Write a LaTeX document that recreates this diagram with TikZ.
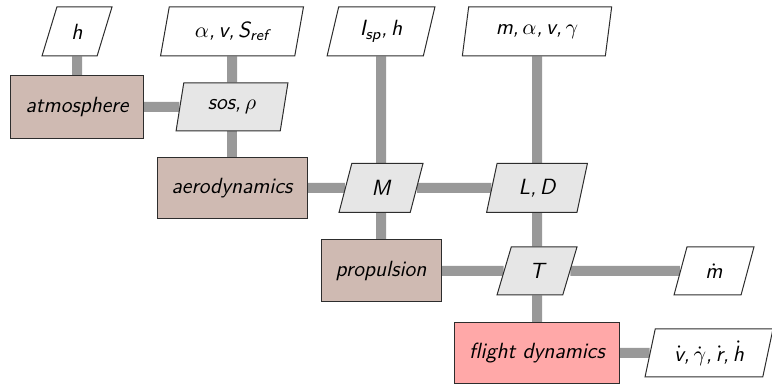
\documentclass[tikz,border=0pt]{standalone}
\usepackage{amsmath}
\usetikzlibrary{shapes.geometric,backgrounds}
\definecolor{funcfill}{RGB}{207,186,178}
\definecolor{solverfill}{RGB}{255,168,168}
\definecolor{datafill}{RGB}{230,230,230}
\definecolor{linkgray}{RGB}{153,153,153}
\definecolor{edge}{RGB}{45,45,45}
% time derivative of a sans italic variable
\newcommand\tdot[1]{$\dot{\text{#1}}$}
\tikzset{
  base/.style={draw=edge, line width=0.5pt, inner sep=0pt,
    font=\fontsize{11}{13}\selectfont\sffamily\itshape},
  func/.style={base, rectangle, fill=funcfill},
  solver/.style={base, rectangle, fill=solverfill},
  databox/.style={base, trapezium, trapezium left angle=75,
    trapezium right angle=105, trapezium stretches=true, fill=datafill},
  iobox/.style={databox, fill=white},
  link/.style={draw=linkgray, line width=5pt},
}
\begin{document}
\begin{tikzpicture}[x=0.5pt, y=-0.5pt]
\useasboundingbox (0,0) rectangle (772,384);
% inputs on the top row
\node[iobox, minimum width=35pt, minimum height=24.5pt] (h) at (77,31.5) {h};
\node[iobox, minimum width=71.5pt, minimum height=24.5pt] (aref) at (232,31.5) {$\alpha$,\,v,\,S\textsubscript{ref}};
\node[iobox, minimum width=54pt, minimum height=24.5pt] (isp) at (381,31.5) {I\textsubscript{sp},\,h};
\node[iobox, minimum width=75pt, minimum height=24.5pt] (mav) at (537,31.5) {m,\,$\alpha$,\,v,\,$\gamma$};
% disciplines and coupling data
\node[func, minimum width=66.5pt, minimum height=31.5pt] (atm) at (77,107) {atmosphere};
\node[databox, minimum width=56pt, minimum height=24pt] (sos) at (232,107) {sos,\,$\rho$};
\node[func, minimum width=75pt, minimum height=30.5pt] (aero) at (232,188) {aerodynamics};
\node[databox, minimum width=42pt, minimum height=24.5pt] (M) at (381,188) {M};
\node[databox, minimum width=50.5pt, minimum height=24.5pt] (LD) at (537,188) {L,\,D};
\node[func, minimum width=60pt, minimum height=31pt] (prop) at (381,271) {propulsion};
\node[databox, minimum width=40pt, minimum height=24pt] (T) at (537,271) {T};
\node[iobox, minimum width=40pt, minimum height=24pt] (mdot) at (714,271) {\tdot{m}};
\node[solver, minimum width=82.5pt, minimum height=30.5pt] (fd) at (537,353) {flight dynamics};
\node[iobox, minimum width=64pt, minimum height=24pt] (vdot) at (709,353) {\tdot{v},\,$\dot{\gamma}$,\,\tdot{r},\,\tdot{h}};
% data links behind the boxes
\begin{scope}[on background layer]
\draw[link] (h) -- (atm);
\draw[link] (atm) -- (sos);
\draw[link] (aref) -- (sos);
\draw[link] (sos) -- (aero);
\draw[link] (aero) -- (M);
\draw[link] (M) -- (LD);
\draw[link] (isp) -- (M);
\draw[link] (M) -- (prop);
\draw[link] (mav) -- (LD);
\draw[link] (LD) -- (T);
\draw[link] (T) -- (fd);
\draw[link] (prop) -- (T);
\draw[link] (T) -- (mdot);
\draw[link] (fd) -- (vdot);
\end{scope}
\end{tikzpicture}
\end{document}
